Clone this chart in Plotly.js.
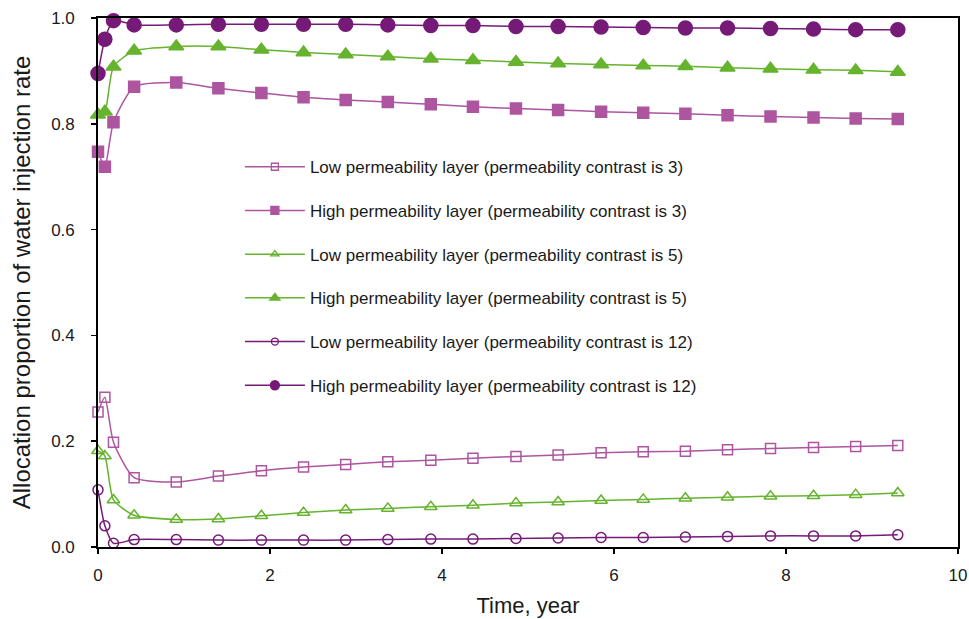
<!DOCTYPE html>
<html>
<head>
<meta charset="utf-8">
<script src="https://cdn.plot.ly/plotly-3.0.1.min.js"></script>
<style>html,body{margin:0;padding:0;background:#fff;}#chart{width:969px;height:619px;}</style>
</head>
<body>
<div id="chart"></div>
<script>
const timeYears = [0, 0.08, 0.18, 0.42, 0.91, 1.40, 1.90, 2.39, 2.88, 3.37, 3.87, 4.36, 4.86, 5.35, 5.85, 6.34, 6.83, 7.32, 7.82, 8.32, 8.81, 9.30];

const low3  = [0.255, 0.283, 0.198, 0.131, 0.123, 0.134, 0.144, 0.151, 0.156, 0.161, 0.164, 0.168, 0.171, 0.174, 0.178, 0.180, 0.181, 0.184, 0.186, 0.188, 0.190, 0.192];
const high3 = [0.747, 0.719, 0.803, 0.870, 0.878, 0.867, 0.858, 0.850, 0.845, 0.841, 0.837, 0.832, 0.829, 0.826, 0.823, 0.821, 0.819, 0.816, 0.814, 0.812, 0.810, 0.809];
const low5  = [0.182, 0.172, 0.089, 0.060, 0.052, 0.053, 0.059, 0.065, 0.070, 0.073, 0.076, 0.079, 0.083, 0.085, 0.088, 0.090, 0.092, 0.094, 0.096, 0.097, 0.099, 0.102];
const high5 = [0.817, 0.823, 0.908, 0.938, 0.946, 0.946, 0.940, 0.935, 0.931, 0.927, 0.923, 0.920, 0.917, 0.914, 0.912, 0.910, 0.909, 0.906, 0.904, 0.902, 0.901, 0.898];
const low12 = [0.108, 0.040, 0.007, 0.014, 0.014, 0.013, 0.013, 0.013, 0.013, 0.014, 0.015, 0.015, 0.016, 0.017, 0.018, 0.018, 0.019, 0.020, 0.021, 0.021, 0.021, 0.023];
const high12 = [0.895, 0.960, 0.995, 0.987, 0.987, 0.988, 0.988, 0.988, 0.988, 0.987, 0.986, 0.986, 0.984, 0.984, 0.983, 0.982, 0.981, 0.981, 0.980, 0.979, 0.978, 0.978];

const seriesNames = [
  "Low permeability layer (permeability contrast is 3)",
  "High permeability layer (permeability contrast is 3)",
  "Low permeability layer (permeability contrast is 5)",
  "High permeability layer (permeability contrast is 5)",
  "Low permeability layer (permeability contrast is 12)",
  "High permeability layer (permeability contrast is 12)"
];
const xTickVals = [0, 2, 4, 6, 8, 10];
const yTickVals = [0, 0.2, 0.4, 0.6, 0.8, 1.0];

const PINK = "#AD559F", GREEN = "#66B32E", PURPLE = "#761A78";
const seriesData = [low3, high3, low5, high5, low12, high12];
const colors = [PINK, PINK, GREEN, GREEN, PURPLE, PURPLE];
const symbols = ["square-open", "square", "triangle-up-open", "triangle-up", "circle-open", "circle"];
const sizes = [10, 11, 11, 13, 10, 14];
const legendSizes = [7, 8, 7, 9, 7, 9];

const dataTraces = seriesData.map((ys, i) => ({
  x: timeYears,
  y: ys,
  name: seriesNames[i],
  showlegend: false,
  type: "scatter",
  mode: "lines+markers",
  cliponaxis: false,
  line: {color: colors[i], width: 1.5, shape: "spline", smoothing: 0.6},
  marker: {symbol: symbols[i], size: sizes[i], color: colors[i], line: {color: colors[i], width: 1.5}}
}));

const legendTraces = seriesNames.map((nm, i) => ({
  x: [null], y: [null],
  name: nm,
  legendgroup: "g" + i,
  type: "scatter",
  mode: "lines+markers",
  line: {color: colors[i], width: 1.5},
  marker: {symbol: symbols[i], size: legendSizes[i], color: colors[i], line: {color: colors[i], width: 1.3}}
}));

const layout = {
  width: 969, height: 619,
  margin: {l: 98, r: 11, t: 18, b: 72},
  paper_bgcolor: "#fff", plot_bgcolor: "#fff",
  font: {family: "Liberation Sans, Arial, sans-serif", color: "#1a1a1a"},
  showlegend: true,
  legend: {
    x: 0.165, y: 0.752, xanchor: "left", yanchor: "top",
    bgcolor: "rgba(0,0,0,0)", borderwidth: 0,
    font: {size: 17, color: "#1a1a1a"},
    tracegroupgap: 18.6, itemsizing: "trace", itemwidth: 60
  },
  xaxis: {
    range: [0, 10], tickvals: xTickVals, ticktext: xTickVals.map(String),
    showgrid: false, zeroline: false,
    showline: true, linecolor: "#000", linewidth: 1.8, mirror: true,
    ticks: "outside", ticklen: 5, tickcolor: "#000", tickwidth: 1.5,
    ticklabelstandoff: 7,
    tickfont: {size: 17},
    title: {text: "Time, year", font: {size: 22}, standoff: 13}
  },
  yaxis: {
    range: [0, 1], tickvals: yTickVals, tickformat: ".1f",
    showgrid: false, zeroline: false,
    showline: true, linecolor: "#000", linewidth: 1.8, mirror: true,
    ticks: "outside", ticklen: 5, tickcolor: "#000", tickwidth: 1.5,
    ticklabelstandoff: 13,
    tickfont: {size: 17},
    title: {text: "Allocation proportion of water injection rate", font: {size: 24}, standoff: 14}
  }
};

Plotly.newPlot("chart", dataTraces.concat(legendTraces), layout, {displayModeBar: false, staticPlot: true});
</script>
</body>
</html>
